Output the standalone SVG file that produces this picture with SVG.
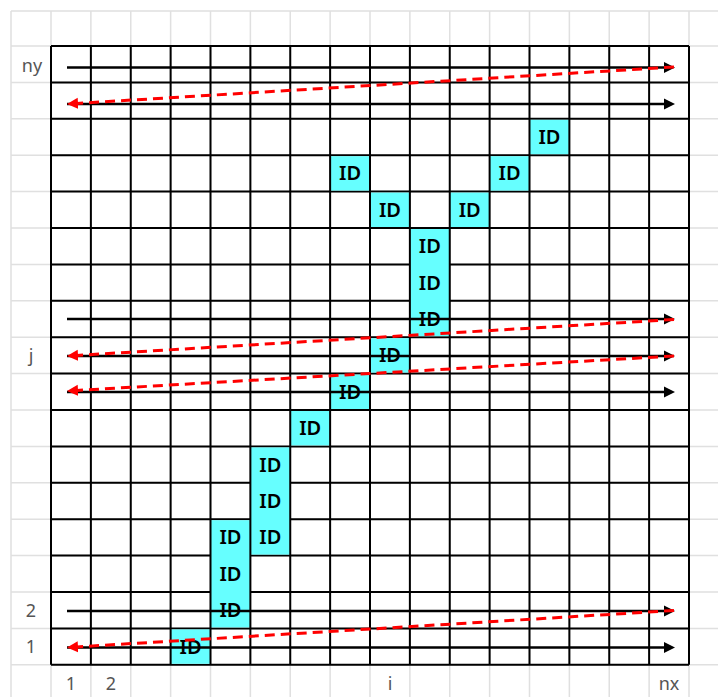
<svg xmlns="http://www.w3.org/2000/svg" width="718" height="697" viewBox="0 0 718 697">
<style>
.lg{stroke:#e0e0e0;stroke-width:1.5;fill:none}
.bg{stroke:#000;stroke-width:2;fill:none}
.cell{fill:#66ffff;stroke:none}
.id{font-family:"Noto Sans","DejaVu Sans",sans-serif;font-size:20px;font-weight:600;fill:#000;text-anchor:middle}
.lbl{font-family:"Noto Sans","DejaVu Sans",sans-serif;font-size:18px;fill:#555;text-anchor:middle}
.ar{stroke:#000;stroke-width:2.5;fill:none;marker-end:url(#ah)}
.rd{stroke:#ff0000;stroke-width:3;fill:none;stroke-dasharray:10 6;marker-end:url(#rh)}
</style>
<defs>
<marker id="ah" markerUnits="userSpaceOnUse" markerWidth="12" markerHeight="12" viewBox="0 0 12 12" refX="1" refY="6" orient="auto"><path d="M0,0.5 L11,6 L0,11.5 z" fill="#000"/></marker>
<marker id="rh" markerUnits="userSpaceOnUse" markerWidth="12" markerHeight="12" viewBox="0 0 12 12" refX="1" refY="6" orient="auto"><path d="M0,0.5 L11,6 L0,11.5 z" fill="#ff0000"/></marker>
</defs>
<rect width="718" height="697" fill="#fff"/>
<g id="lightgrid" class="lg">
<path d="M11,11V697M51,11V697M90.875,11V697M130.75,11V697M170.625,11V697M210.5,11V697M250.375,11V697M290.25,11V697M330.125,11V697M370,11V697M409.875,11V697M449.75,11V697M489.625,11V697M529.5,11V697M569.375,11V697M609.25,11V697M649.125,11V697M689,11V697"/>
<path d="M11,11H718M11,46H718M11,82.4H718M11,118.8H718M11,155.2H718M11,191.6H718M11,228H718M11,264.4H718M11,300.8H718M11,337.2H718M11,373.6H718M11,410H718M11,446.4H718M11,482.8H718M11,519.2H718M11,555.6H718M11,592H718M11,628.4H718M11,664.8H718"/>
</g>
<g id="grid-h" class="bg">
<path d="M51,46H689M51,82.4H689M51,118.8H689M51,155.2H689M51,191.6H689M51,228H689M51,264.4H689M51,300.8H689M51,337.2H689M51,373.6H689M51,410H689M51,446.4H689M51,482.8H689M51,519.2H689M51,555.6H689M51,592H689M51,628.4H689M51,664.8H689"/>
</g>
<g id="cells">
<rect class="cell" x="529.5" y="119.8" width="39.875" height="34.4"/>
<rect class="cell" x="330.125" y="156.2" width="39.875" height="34.4"/>
<rect class="cell" x="489.625" y="156.2" width="39.875" height="34.4"/>
<rect class="cell" x="370" y="192.6" width="39.875" height="34.4"/>
<rect class="cell" x="449.75" y="192.6" width="39.875" height="34.4"/>
<rect class="cell" x="409.875" y="229" width="39.875" height="107.2"/>
<rect class="cell" x="370" y="338.2" width="39.875" height="34.4"/>
<rect class="cell" x="330.125" y="374.6" width="39.875" height="34.4"/>
<rect class="cell" x="290.25" y="411" width="39.875" height="34.4"/>
<rect class="cell" x="250.375" y="447.4" width="39.875" height="107.2"/>
<rect class="cell" x="210.5" y="520.2" width="39.875" height="107.2"/>
<rect class="cell" x="170.625" y="629.4" width="39.875" height="34.4"/>
</g>
<g id="grid-v" class="bg">
<path d="M51,46V664.8M90.875,46V664.8M130.75,46V664.8M170.625,46V664.8M210.5,46V664.8M250.375,46V664.8M290.25,46V664.8M330.125,46V664.8M370,46V664.8M409.875,46V664.8M449.75,46V664.8M489.625,46V664.8M529.5,46V664.8M569.375,46V664.8M609.25,46V664.8M649.125,46V664.8M689,46V664.8"/>
</g>
<g id="id-12-2"><text class="id" x="549.4" y="144">ID</text></g>
<g id="id-7-3"><text class="id" x="350.1" y="180.4">ID</text></g>
<g id="id-11-3"><text class="id" x="509.6" y="180.4">ID</text></g>
<g id="id-8-4"><text class="id" x="389.9" y="216.8">ID</text></g>
<g id="id-10-4"><text class="id" x="469.7" y="216.8">ID</text></g>
<g id="id-9-5"><text class="id" x="429.8" y="253.2">ID</text></g>
<g id="id-9-6"><text class="id" x="429.8" y="289.6">ID</text></g>
<g id="id-9-7"><text class="id" x="429.8" y="326">ID</text></g>
<g id="id-8-8"><text class="id" x="389.9" y="362.4">ID</text></g>
<g id="id-7-9"><text class="id" x="350.1" y="398.8">ID</text></g>
<g id="id-6-10"><text class="id" x="310.2" y="435.2">ID</text></g>
<g id="id-5-11"><text class="id" x="270.3" y="471.6">ID</text></g>
<g id="id-5-12"><text class="id" x="270.3" y="508">ID</text></g>
<g id="id-5-13"><text class="id" x="270.3" y="544.4">ID</text></g>
<g id="id-4-13"><text class="id" x="230.4" y="544.4">ID</text></g>
<g id="id-4-14"><text class="id" x="230.4" y="580.8">ID</text></g>
<g id="id-4-15"><text class="id" x="230.4" y="617.2">ID</text></g>
<g id="id-3-16"><text class="id" x="190.6" y="653.6">ID</text></g>
<g id="connectors">
<path class="ar" d="M67,67.5H665"/>
<path class="ar" d="M67,104H665"/>
<path class="ar" d="M67,319H665"/>
<path class="ar" d="M67,356H665"/>
<path class="ar" d="M67,392H665"/>
<path class="ar" d="M67,611H665"/>
<path class="ar" d="M67,647.5H665"/>
<path class="rd" d="M674,67 L77,103.4"/>
<path class="rd" d="M674,319.5 L77,355.4"/>
<path class="rd" d="M674,356 L77,390.4"/>
<path class="rd" d="M674,610.5 L77,646.9"/>
</g>
<g id="labels">
<text class="lbl" x="32" y="72">ny</text>
<text class="lbl" x="31" y="362">j</text>
<text class="lbl" x="31" y="617">2</text>
<text class="lbl" x="31" y="653">1</text>
<text class="lbl" x="71" y="690">1</text>
<text class="lbl" x="111" y="690">2</text>
<text class="lbl" x="390" y="690">i</text>
<text class="lbl" x="669" y="690">nx</text>
</g>
</svg>
